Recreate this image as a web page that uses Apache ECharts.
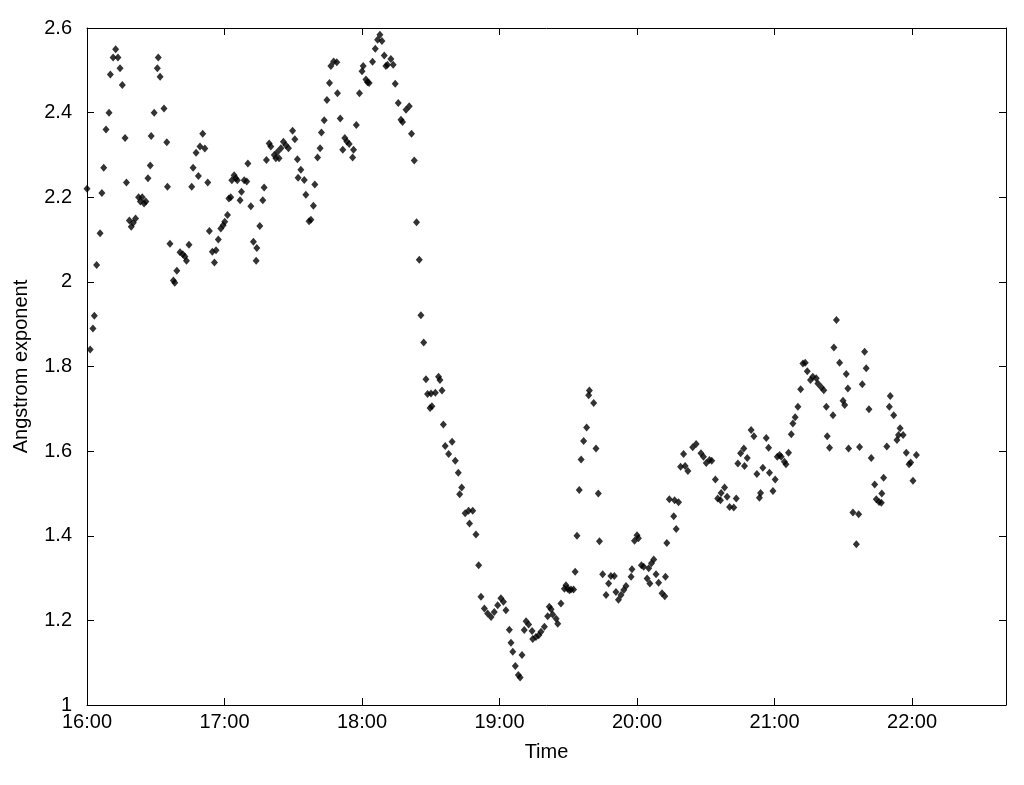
<!DOCTYPE html>
<html>
<head>
<meta charset="utf-8">
<script src="https://cdn.jsdelivr.net/npm/echarts@6/dist/echarts.min.js"></script>
<style>
  html, body { margin: 0; padding: 0; background: #fff; }
  #chart { width: 1024px; height: 785px; }
</style>
</head>
<body>
<div id="chart"></div>
<script>
// minutes after 16:00
const timeMin = [
  0, 1.4, 2.6, 3.2, 4.2, 5.7, 6.5, 7.3, 8.3, 9.6, 10.2, 11.4, 12.5, 13.5, 14.4, 15.4, 16.6, 17.2, 18.5, 19.3,
  20.2, 21.2, 22.5, 23.3, 24.1, 24.9, 25.7, 26.6, 27.6, 28.0, 29.3, 30.7, 31.1, 31.9, 33.6, 34.8, 35.1, 36.2, 37.7, 38.3,
  39.2, 40.6, 41.8, 42.7, 43.4, 44.5, 45.7, 46.3, 47.6, 48.6, 49.3, 50.5, 51.4, 52.7, 53.4, 54.7, 55.6, 56.3, 57.3, 58.4,
  59.4, 60.1, 61.3, 61.9, 62.7, 63.2, 64.2, 64.9, 65.6, 66.8, 67.4, 68.6, 69.7, 70.2, 71.5, 72.6, 73.8, 74.1, 75.4, 76.7,
  77.3, 78.3, 79.5, 80.2, 81.7, 82.4, 83.1, 83.8, 84.6, 85.7, 86.8, 87.9, 89.7, 90.7, 91.8, 92.1, 93.3, 94.8, 95.5, 96.9,
  97.7, 98.8, 99.4, 100.6, 101.7, 102.3, 103.5, 104.7, 105.8, 106.4, 107.6, 109.0, 109.3, 110.5, 111.6, 112.5, 113.4, 114.4, 115.9, 116.3,
  117.5, 118.9, 120.0, 120.5, 121.7, 122.4, 123.1, 124.6, 125.8, 126.8, 127.8, 128.7, 129.7, 130.4, 131.1, 132.6, 133.6, 134.5, 135.8, 137.0,
  137.7, 139.2, 140.6, 141.6, 142.8, 143.8, 145.0, 145.7, 146.9, 147.9, 148.6, 149.7, 150.1, 150.5, 152.0, 153.4, 154.0, 154.9, 155.5, 156.3,
  157.8, 159.3, 160.7, 162.0, 162.6, 163.5, 165.0, 166.5, 166.9, 168.3, 169.7, 170.9, 171.9, 173.4, 174.8, 176.3, 177.7, 179.2, 180.6, 181.7,
  182.8, 184.3, 185.0, 185.8, 186.9, 188.2, 189.0, 189.8, 190.8, 191.6, 192.7, 194.2, 194.5, 195.9, 197.1, 198.1, 199.6, 201.0, 201.7, 202.5,
  203.2, 204.7, 205.4, 206.8, 208.3, 209.0, 209.7, 210.5, 211.2, 212.3, 213.0, 213.8, 214.8, 215.6, 216.7, 218.0, 218.9, 219.2, 221.1, 222.1,
  223.1, 223.6, 225.0, 226.5, 227.6, 228.6, 230.1, 230.8, 231.9, 233.0, 234.2, 235.2, 237.4, 237.8, 238.9, 240.0, 240.6, 241.9, 242.9, 244.4,
  245.1, 245.6, 246.3, 247.3, 248.3, 249.4, 250.9, 252.1, 252.4, 253.0, 254.1, 256.0, 256.4, 257.1, 258.1, 259.0, 260.3, 261.0, 262.2, 264.3,
  265.8, 267.9, 269.0, 270.2, 271.6, 272.6, 274.2, 275.2, 276.4, 276.7, 278.2, 279.3, 280.4, 282.2, 283.3, 284.0, 285.2, 286.6, 286.9, 288.1,
  289.8, 291.0, 292.3, 293.4, 293.9, 294.9, 296.4, 297.4, 297.8, 299.3, 300.3, 301.2, 302.2, 302.9, 304.3, 305.0, 306.1, 307.3, 308.0, 309.0,
  310.2, 311.4, 312.4, 313.4, 314.3, 315.7, 316.7, 318.2, 318.9, 320.4, 321.5, 322.6, 323.0, 324.0, 325.5, 325.9, 327.0, 328.4, 329.9, 330.6,
  331.3, 332.0, 332.3, 334.2, 335.7, 336.7, 337.1, 338.3, 339.3, 340.0, 341.2, 342.2, 343.7, 344.4, 345.6, 346.6, 346.8, 347.6, 349.0, 350.1,
  350.5, 352.0, 353.4, 354.1, 354.8, 356.1, 357.5, 358.7, 359.4, 360.4, 361.9
];
const angstrom = [
  2.22, 1.84, 1.89, 1.92, 2.04, 2.115, 2.21, 2.27, 2.36, 2.40, 2.49, 2.53, 2.55, 2.53, 2.505, 2.465, 2.34, 2.235, 2.145, 2.13,
  2.14, 2.15, 2.20, 2.19, 2.20, 2.185, 2.19, 2.245, 2.275, 2.345, 2.40, 2.505, 2.53, 2.485, 2.41, 2.33, 2.225, 2.09, 2.003, 1.998,
  2.026, 2.07, 2.065, 2.06, 2.05, 2.088, 2.225, 2.27, 2.305, 2.25, 2.32, 2.35, 2.315, 2.235, 2.12, 2.071, 2.046, 2.075, 2.10, 2.126,
  2.134, 2.142, 2.158, 2.197, 2.20, 2.24, 2.252, 2.245, 2.24, 2.193, 2.213, 2.24, 2.237, 2.28, 2.179, 2.095, 2.05, 2.08, 2.132, 2.193,
  2.223, 2.288, 2.327, 2.32, 2.30, 2.292, 2.307, 2.292, 2.316, 2.331, 2.323, 2.316, 2.357, 2.337, 2.29, 2.246, 2.265, 2.241, 2.206, 2.143,
  2.147, 2.18, 2.23, 2.294, 2.316, 2.353, 2.382, 2.43, 2.47, 2.51, 2.521, 2.519, 2.446, 2.386, 2.312, 2.34, 2.332, 2.326, 2.294, 2.312,
  2.371, 2.446, 2.498, 2.51, 2.478, 2.472, 2.47, 2.52, 2.551, 2.572, 2.584, 2.569, 2.535, 2.51, 2.513, 2.527, 2.513, 2.468, 2.423, 2.383,
  2.378, 2.407, 2.415, 2.35, 2.287, 2.141, 2.052, 1.921, 1.857, 1.77, 1.735, 1.702, 1.736, 1.706, 1.738, 1.776, 1.768, 1.743, 1.663, 1.612,
  1.593, 1.622, 1.577, 1.549, 1.498, 1.514, 1.453, 1.459, 1.429, 1.459, 1.403, 1.33, 1.256, 1.228, 1.216, 1.208, 1.22, 1.236, 1.252, 1.244,
  1.224, 1.178, 1.147, 1.126, 1.092, 1.071, 1.065, 1.118, 1.177, 1.198, 1.19, 1.175, 1.156, 1.161, 1.165, 1.173, 1.185, 1.21, 1.232, 1.226,
  1.214, 1.204, 1.192, 1.24, 1.275, 1.283, 1.275, 1.271, 1.273, 1.273, 1.315, 1.40, 1.508, 1.58, 1.624, 1.656, 1.732, 1.743, 1.714, 1.606,
  1.50, 1.387, 1.309, 1.26, 1.287, 1.305, 1.305, 1.267, 1.249, 1.26, 1.272, 1.281, 1.303, 1.321, 1.388, 1.401, 1.394, 1.33, 1.327, 1.299,
  1.323, 1.287, 1.335, 1.344, 1.309, 1.289, 1.264, 1.257, 1.303, 1.383, 1.486, 1.446, 1.484, 1.416, 1.479, 1.563, 1.593, 1.565, 1.553, 1.609,
  1.617, 1.595, 1.587, 1.572, 1.579, 1.577, 1.533, 1.488, 1.484, 1.501, 1.514, 1.492, 1.468, 1.467, 1.488, 1.571, 1.595, 1.606, 1.565, 1.584,
  1.65, 1.635, 1.546, 1.49, 1.501, 1.561, 1.631, 1.608, 1.549, 1.506, 1.533, 1.587, 1.591, 1.587, 1.575, 1.569, 1.596, 1.64, 1.665, 1.68,
  1.705, 1.746, 1.807, 1.809, 1.789, 1.768, 1.776, 1.772, 1.76, 1.751, 1.744, 1.705, 1.635, 1.608, 1.685, 1.845, 1.91, 1.809, 1.719, 1.709,
  1.782, 1.748, 1.606, 1.455, 1.38, 1.451, 1.61, 1.758, 1.835, 1.796, 1.699, 1.584, 1.521, 1.486, 1.48, 1.478, 1.50, 1.537, 1.611, 1.705,
  1.73, 1.685, 1.626, 1.638, 1.654, 1.638, 1.596, 1.569, 1.573, 1.53, 1.591
];
const xTickLabels = ['16:00', '17:00', '18:00', '19:00', '20:00', '21:00', '22:00'];
const yTickLabels = ['1', '1.2', '1.4', '1.6', '1.8', '2', '2.2', '2.4', '2.6'];

const points = timeMin.map((t, i) => [t, angstrom[i]]);
const FONT = 'Liberation Sans, Arial, sans-serif';

const chart = echarts.init(document.getElementById('chart'), null, { renderer: 'canvas' });
const lineStyle = { color: '#000', width: 1 };
chart.setOption({
  backgroundColor: '#fff',
  animation: false,
  grid: { left: 87, right: 18, top: 28, bottom: 80, containLabel: false },
  xAxis: [{
    type: 'value', min: 0, max: 401, interval: 60, position: 'bottom',
    name: 'Time', nameLocation: 'middle', nameGap: 37,
    nameTextStyle: { color: '#000', fontSize: 20, fontFamily: FONT },
    axisLine: { show: true, onZero: false, lineStyle },
    axisTick: { show: true, inside: true, length: 7, lineStyle },
    axisLabel: {
      color: '#000', fontSize: 20, fontFamily: FONT, margin: 7, showMaxLabel: false,
      formatter: v => { const k = Math.round(v / 60); return Math.abs(v - k * 60) < 1e-6 ? (xTickLabels[k] || '') : ''; }
    },
    splitLine: { show: false }
  }, {
    type: 'value', min: 0, max: 401, interval: 60, position: 'top',
    axisLine: { show: true, onZero: false, lineStyle },
    axisTick: { show: true, inside: true, length: 7, lineStyle },
    axisLabel: { show: false }, splitLine: { show: false }
  }],
  yAxis: [{
    type: 'value', min: 1, max: 2.6, interval: 0.2, position: 'left',
    name: 'Angstrom exponent', nameLocation: 'middle', nameGap: 56,
    nameTextStyle: { color: '#000', fontSize: 20, fontFamily: FONT },
    axisLine: { show: true, onZero: false, lineStyle },
    axisTick: { show: true, inside: true, length: 7, lineStyle },
    axisLabel: {
      color: '#000', fontSize: 20, fontFamily: FONT, margin: 15,
      formatter: v => { const k = Math.round((v - 1) / 0.2); return yTickLabels[k] || ''; }
    },
    splitLine: { show: false }
  }, {
    type: 'value', min: 1, max: 2.6, interval: 0.2, position: 'right',
    axisLine: { show: true, onZero: false, lineStyle },
    axisTick: { show: true, inside: true, length: 7, lineStyle },
    axisLabel: { show: false }, splitLine: { show: false }
  }],
  series: [{
    type: 'scatter',
    xAxisIndex: 0, yAxisIndex: 0,
    data: points,
    symbol: 'diamond',
    symbolSize: [7, 8],
    itemStyle: { color: '#000' },
    emphasis: { disabled: true }
  }]
});
</script>
</body>
</html>
